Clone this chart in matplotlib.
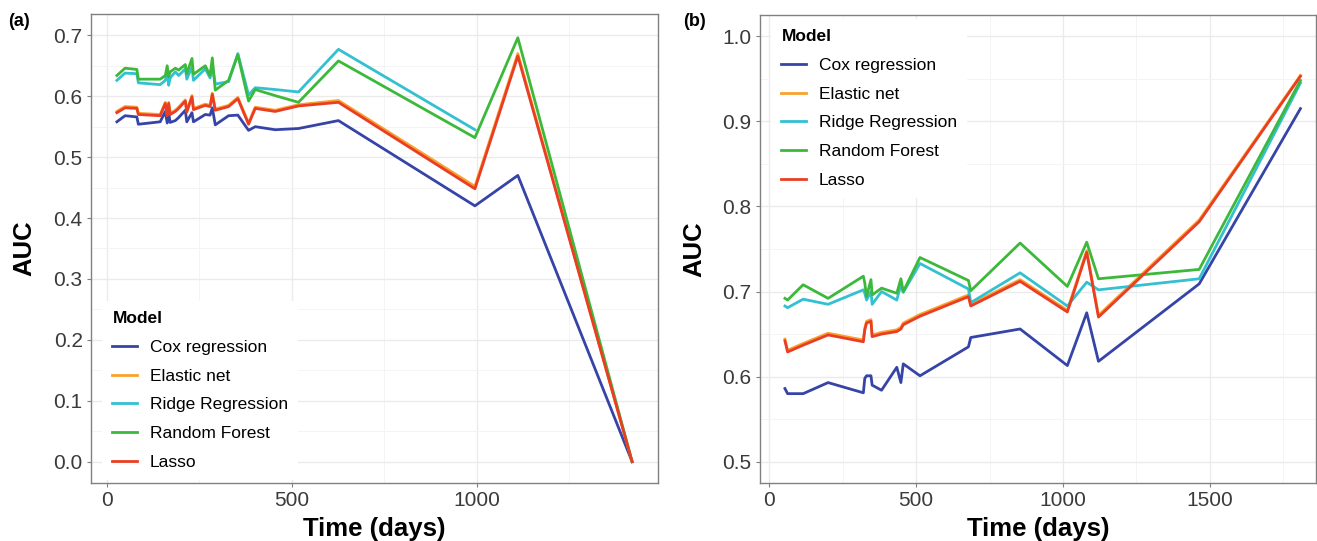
import numpy as np
import matplotlib
matplotlib.use("Agg")
import matplotlib.pyplot as plt
from matplotlib.ticker import MultipleLocator, FormatStrFormatter

plt.rcParams['font.family'] = ['Liberation Sans', 'DejaVu Sans']

models = ["Cox regression", "Elastic net", "Ridge Regression", "Random Forest", "Lasso"]
colors = ["#3544A6", "#F9A12E", "#33C0D0", "#3CB93B", "#EA3E24"]

# ---------------- Panel (a) ----------------
time_a = [27, 49, 81, 85, 144, 158, 163, 167, 171, 185, 194, 212, 216, 230, 234,
          266, 279, 285, 293, 329, 354, 383, 401, 455, 518, 626, 995, 1111, 1420]
cox_a = [0.558, 0.568, 0.566, 0.554, 0.558, 0.575, 0.556, 0.573, 0.557, 0.560, 0.565,
         0.577, 0.558, 0.573, 0.558, 0.570, 0.569, 0.581, 0.553, 0.568, 0.569,
         0.544, 0.550, 0.545, 0.547, 0.560, 0.420, 0.470, 0.0]
lasso_a = [0.573, 0.581, 0.580, 0.570, 0.568, 0.588, 0.568, 0.588, 0.570, 0.575, 0.580,
           0.592, 0.574, 0.599, 0.578, 0.585, 0.583, 0.603, 0.577, 0.583, 0.596,
           0.554, 0.580, 0.575, 0.584, 0.590, 0.448, 0.666, 0.0]
enet_a = [0.575, 0.583, 0.582, 0.572, 0.570, 0.590, 0.570, 0.590, 0.572, 0.577, 0.582,
          0.594, 0.576, 0.601, 0.580, 0.587, 0.585, 0.605, 0.579, 0.585, 0.598,
          0.556, 0.582, 0.577, 0.586, 0.593, 0.452, 0.670, 0.0]
ridge_a = [0.626, 0.638, 0.637, 0.622, 0.619, 0.626, 0.640, 0.618, 0.630, 0.640, 0.634,
           0.645, 0.628, 0.648, 0.626, 0.645, 0.630, 0.650, 0.620, 0.624, 0.670,
           0.602, 0.614, 0.611, 0.607, 0.677, 0.545, np.nan, np.nan]
rf_a = [0.634, 0.646, 0.644, 0.628, 0.628, 0.634, 0.650, 0.632, 0.640, 0.646, 0.643,
        0.652, 0.637, 0.662, 0.636, 0.650, 0.634, 0.663, 0.610, 0.626, 0.668,
        0.592, 0.611, 0.601, 0.590, 0.658, 0.532, 0.696, 0.0]

# ---------------- Panel (b) ----------------
time_b = [53, 62, 115, 200, 320, 325, 331, 346, 350, 382, 434, 448, 456, 513,
          678, 686, 854, 1015, 1081, 1121, 1464, 1809]
cox_b = [0.586, 0.580, 0.580, 0.593, 0.581, 0.598, 0.601, 0.601, 0.590, 0.584, 0.611,
         0.593, 0.615, 0.601, 0.635, 0.646, 0.656, 0.613, 0.675, 0.618, 0.709, 0.915]
lasso_b = [0.642, 0.629, 0.637, 0.649, 0.641, 0.655, 0.663, 0.665, 0.647, 0.650, 0.653,
           0.656, 0.661, 0.671, 0.694, 0.683, 0.712, 0.676, 0.746, 0.670, 0.782, 0.953]
enet_b = [0.644, 0.631, 0.639, 0.651, 0.643, 0.657, 0.665, 0.667, 0.649, 0.652, 0.655,
          0.658, 0.663, 0.673, 0.696, 0.685, 0.714, 0.678, 0.748, 0.672, 0.784, 0.954]
ridge_b = [0.683, 0.681, 0.691, 0.685, 0.702, 0.698, 0.690, 0.700, 0.685, 0.700, 0.690,
           0.708, 0.699, 0.733, 0.703, 0.687, 0.722, 0.683, 0.711, 0.702, 0.715, 0.945]
rf_b = [0.692, 0.690, 0.708, 0.692, 0.718, 0.710, 0.694, 0.714, 0.696, 0.704, 0.698,
        0.715, 0.700, 0.740, 0.713, 0.701, 0.757, 0.706, 0.758, 0.715, 0.726, 0.948]

W, H = 1317, 541
fig = plt.figure(figsize=(W / 100, H / 100), dpi=100)

def px_axes(left, top, right, bottom):
    return fig.add_axes([left / W, 1 - bottom / H, (right - left) / W, (bottom - top) / H])

ax_a = px_axes(91, 14, 658, 483)
ax_b = px_axes(760, 15, 1316, 483)

series_a = [cox_a, enet_a, ridge_a, rf_a, lasso_a]
series_b = [cox_b, enet_b, ridge_b, rf_b, lasso_b]

def style(ax, xlim, ylim, legend_xy):
    ax.set_xlim(*xlim)
    ax.set_ylim(*ylim)
    ax.xaxis.set_major_locator(MultipleLocator(500))
    ax.xaxis.set_minor_locator(MultipleLocator(250))
    ax.yaxis.set_major_locator(MultipleLocator(0.1))
    ax.yaxis.set_minor_locator(MultipleLocator(0.05))
    ax.yaxis.set_major_formatter(FormatStrFormatter("%.1f"))
    ax.grid(which="major", color="#EBEBEB", linewidth=1.0, zorder=0)
    ax.grid(which="minor", color="#F4F4F4", linewidth=0.7, zorder=0)
    ax.set_axisbelow(True)
    for s in ax.spines.values():
        s.set_color("#808080")
        s.set_linewidth(1.0)
    ax.tick_params(which="major", length=3, width=0.8, color="#808080",
                   labelsize=15, labelcolor="#3A3A3A", pad=3)
    ax.tick_params(which="minor", length=0)
    ax.set_xlabel("Time (days)", fontsize=18.5, fontweight="bold", labelpad=5)
    ax.set_ylabel("AUC", fontsize=18.5, fontweight="bold", labelpad=12)
    leg = ax.legend(title="Model", loc="upper left",
                    bbox_to_anchor=(legend_xy[0] / W, 1 - legend_xy[1] / H),
                    bbox_transform=fig.transFigure, borderaxespad=0,
                    fontsize=12.5, title_fontproperties={"weight": "bold", "size": 12.5},
                    frameon=True, facecolor="white", edgecolor="none", framealpha=1,
                    fancybox=False, handlelength=1.4, handletextpad=0.75,
                    labelspacing=0.78, borderpad=0.6, alignment="left")
    for h in leg.get_lines():
        h.set_linewidth(2.0)

for vals, name, c in zip(series_a, models, colors):
    ax_a.plot(time_a, vals, color=c, linewidth=2.0, label=name)
for vals, name, c in zip(series_b, models, colors):
    ax_b.plot(time_b, vals, color=c, linewidth=2.0, label=name)

style(ax_a, (-43, 1490), (-0.035, 0.735), (102, 301))
style(ax_b, (-32, 1862), (0.475, 1.025), (771, 19))

fig.text(8 / W, 1 - 22 / H, "(a)", fontsize=13, fontweight="bold", va="center", ha="left")
fig.text(683 / W, 1 - 22 / H, "(b)", fontsize=13, fontweight="bold", va="center", ha="left")

fig.savefig("out.png", dpi=100)
